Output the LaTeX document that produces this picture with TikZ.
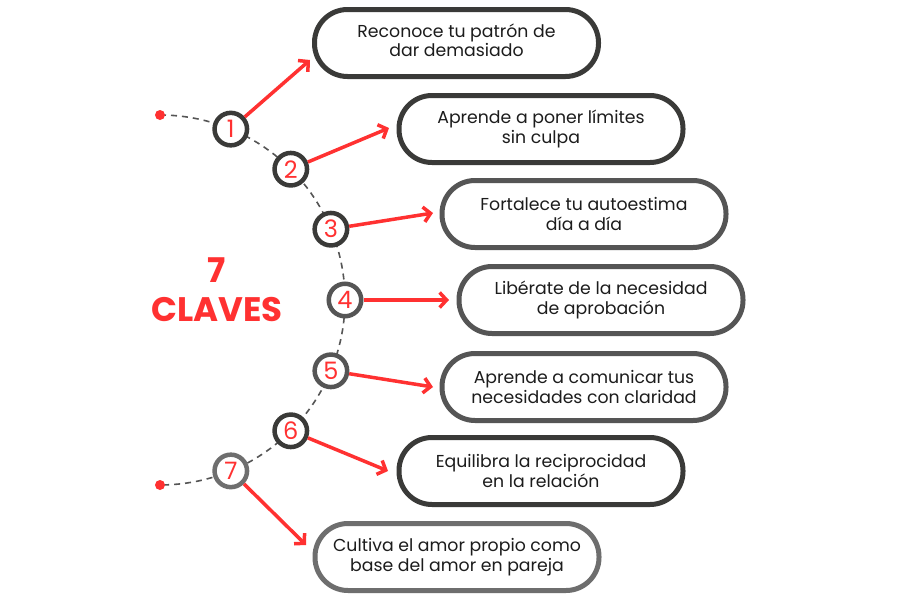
\documentclass[tikz,border=0pt]{standalone}
\usepackage{fontspec}
\setmainfont{Poppins}
\usetikzlibrary{arrows.meta}
\definecolor{cred}{HTML}{FF3131}
\definecolor{cdark}{HTML}{3A3A38}
\definecolor{cmid}{HTML}{555555}
\definecolor{clight}{HTML}{6E6E6E}
\definecolor{ctext}{HTML}{1C1C1C}
\tikzset{
  keybox/.style={draw, line width=5pt, rounded corners=33pt, fill=white,
    minimum width=284pt, minimum height=67pt, align=center,
    text=ctext, font=\fontsize{17.3}{19.8}\selectfont},
  numcirc/.style={circle, draw, line width=4.5pt, fill=white,
    minimum size=32.5pt, inner sep=0pt, text=cred,
    font=\fontsize{24}{24}\selectfont},
  reddot/.style={circle, fill=cred, minimum size=10pt, inner sep=0pt},
  redarrow/.style={draw=cred, line width=3.5pt,
    -{Straight Barb[length=7pt,width=15pt,line width=3.5pt]}},
  dashpath/.style={draw=cmid, line width=1.6pt, dash pattern=on 6pt off 5pt},
  title/.style={text=cred, font=\bfseries\fontsize{34}{39}\selectfont, align=center}
}
\begin{document}
\begin{tikzpicture}[x=1pt,y=-1pt]
\useasboundingbox (0,0) rectangle (900,600);
\fill[white] (0,0) rectangle (900,600);
% dashed arc
\draw[dashpath] plot[domain=-90:90, samples=90] ({160+185*cos(\x)},{300+185*sin(\x)});
\node[reddot] (d1) at (160,115) {};
\node[reddot] (d2) at (160,485) {};
% circles
\node[numcirc, draw=cdark]  (c1) at (230.8,129.1) {1};
\node[numcirc, draw=cdark]  (c2) at (290.8,169.2) {2};
\node[numcirc, draw=cdark]  (c3) at (330.9,229.2) {3};
\node[numcirc, draw=cmid]   (c4) at (345,300) {4};
\node[numcirc, draw=cmid]   (c5) at (330.9,370.8) {5};
\node[numcirc, draw=cdark]  (c6) at (290.8,430.8) {6};
\node[numcirc, draw=clight] (c7) at (230.8,470.9) {7};
% boxes
\node[keybox, draw=cdark]  (b1) at (456.5,43)  {\raisebox{3pt}{\begin{tabular}{@{}c@{}}Reconoce tu patrón de\\dar demasiado\end{tabular}}};
\node[keybox, draw=cdark]  (b2) at (541,129)   {Aprende a poner límites\\sin culpa};
\node[keybox, draw=cmid]   (b3) at (584,214)   {Fortalece tu autoestima\\día a día};
\node[keybox, draw=cmid]   (b4) at (601,300)   {Libérate de la necesidad\\de aprobación};
\node[keybox, draw=cmid]   (b5) at (584,387)   {Aprende a comunicar tus\\necesidades con claridad};
\node[keybox, draw=cdark]  (b6) at (541,471)   {Equilibra la reciprocidad\\en la relación};
\node[keybox, draw=clight] (b7) at (457,557)   {Cultiva el amor propio como\\base del amor en pareja};
% arrow tips
\coordinate (t1) at (310,60);
\coordinate (t2) at (389,128);
\coordinate (t3) at (433,213);
\coordinate (t4) at (449,300);
\coordinate (t5) at (433,387);
\coordinate (t6) at (388,471);
\coordinate (t7) at (306,545);
\draw[redarrow] (c1) -- (t1);
\draw[redarrow] (c2) -- (t2);
\draw[redarrow] (c3) -- (t3);
\draw[redarrow] (c4) -- (t4);
\draw[redarrow] (c5) -- (t5);
\draw[redarrow] (c6) -- (t6);
\draw[redarrow] (c7) -- (t7);
% title
\node[title] (ttl) at (217,290) {7\\CLAVES};
\end{tikzpicture}
\end{document}
